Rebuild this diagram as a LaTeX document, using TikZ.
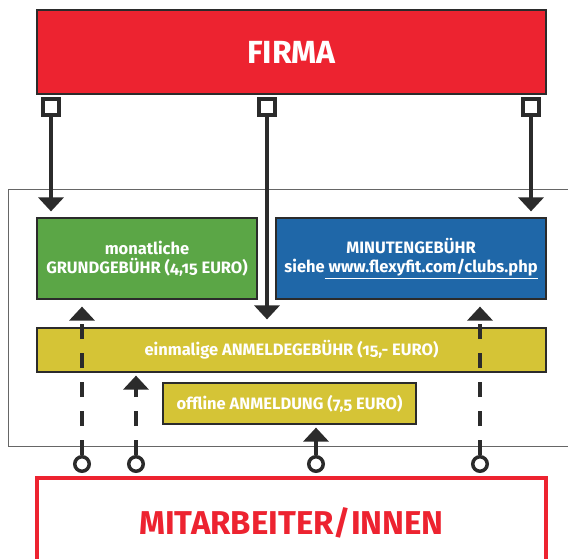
\documentclass[tikz,border=0pt]{standalone}
\usepackage{fontspec}
\setmainfont{Fira Sans}[Numbers=OldStyle]
\usetikzlibrary{arrows.meta}
\definecolor{fred}{HTML}{ED2330}
\definecolor{fgreen}{HTML}{5BA646}
\definecolor{fblue}{HTML}{1F67A8}
\definecolor{fyellow}{HTML}{D5C436}
\definecolor{fdark}{HTML}{2B2B2B}
\begin{document}
\begin{tikzpicture}[x=1pt,y=-1pt,
  box/.style={draw=fdark,line width=1.2pt,inner sep=0pt,text=white,align=center,font=\bfseries\fontsize{16.5}{19}\selectfont},
  sqr/.style={draw=fdark,fill=white,line width=3.5pt,minimum size=16pt,inner sep=0pt},
  circ/.style={circle,draw=fdark,fill=white,line width=3.5pt,minimum size=14.5pt,inner sep=0pt},
  conn/.style={draw=fdark,line width=3.5pt,-{Triangle[width=25pt,length=14pt]}},
  dconn/.style={conn,dash pattern=on 15pt off 14pt}]
\useasboundingbox (0,0) rectangle (568,558);
% frame
\draw[draw=gray!80!black,line width=1pt] (8,189) rectangle (580,446);
% boxes
\node[box,fill=fred,minimum width=509pt,minimum height=84pt,font=\bfseries\fontsize{32}{36}\selectfont] (firma) at (291.5,52) {FIRMA};
\node[box,fill=fgreen,minimum width=220pt,minimum height=81pt] (grund) at (147,258.5) {monatliche\\GRUNDGEBÜHR (4,15 EURO)};
\node[box,fill=fblue,minimum width=270pt,minimum height=81pt] (minute) at (411,258.5) {MINUTENGEBÜHR\\siehe\underline{ www.flexyfit.com/clubs.php}};
\node[box,fill=fyellow,minimum width=509pt,minimum height=44pt] (anm) at (291.5,350) {einmalige ANMELDEGEBÜHR (15,- EURO)};
\node[box,fill=fyellow,minimum width=253pt,minimum height=41pt] (off) at (289.5,403.5) {offline ANMELDUNG (7,5 EURO)};
\node[draw=fred,fill=white,line width=3.5pt,minimum width=509pt,minimum height=90pt,inner sep=0pt,text=fred,font=\bfseries\fontsize{33}{36}\selectfont] (mit) at (291.5,523) {MITARBEITER/INNEN};
% squares
\node[sqr] (sq1) at (51,107) {};
\node[sqr] (sq2) at (267,107) {};
\node[sqr] (sq3) at (531,107) {};
% circles
\node[circ] (c1) at (82,464) {};
\node[circ] (c2) at (136,464) {};
\node[circ] (c3) at (316,464) {};
\node[circ] (c4) at (480,464) {};
% solid connectors
\draw[conn,shorten >=6pt] (sq1.south) -- (sq1.south |- grund.north);
\draw[conn,shorten >=8pt] (sq2.south) -- (sq2.south |- anm.north);
\draw[conn,shorten >=6pt] (sq3.south) -- (sq3.south |- minute.north);
% dashed connectors
\draw[dconn,shorten >=7pt] (c1.north) -- (c1.north |- grund.south);
\draw[dconn,shorten >=3pt] (c2.north) -- (c2.north |- anm.south);
\draw[dconn,shorten >=3pt] (c3.north) -- (c3.north |- off.south);
\draw[dconn,shorten >=7pt] (c4.north) -- (c4.north |- minute.south);
\end{tikzpicture}
\end{document}
